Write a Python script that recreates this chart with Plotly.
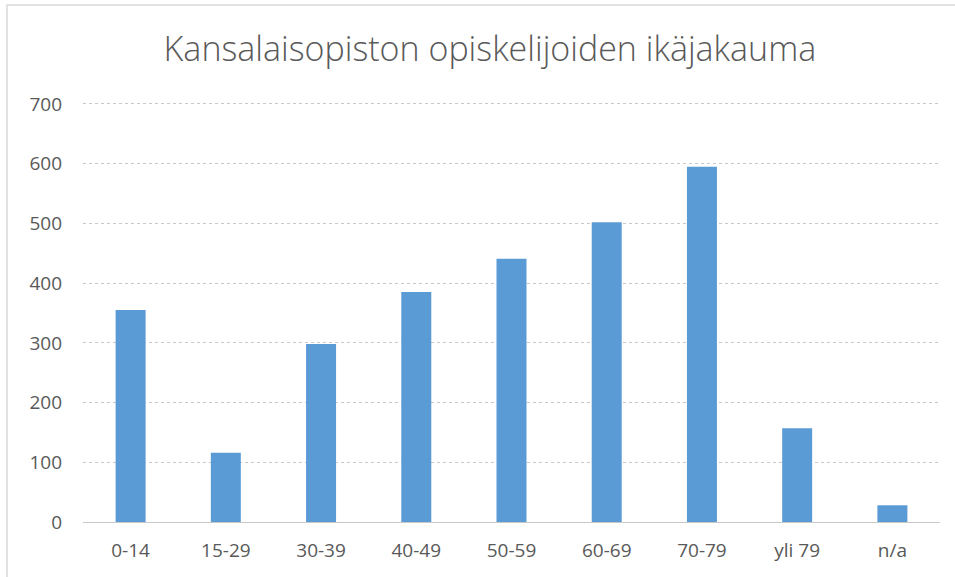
import plotly.graph_objects as go

categories = ["0-14", "15-29", "30-39", "40-49", "50-59", "60-69", "70-79", "yli 79", "n/a"]
values = [355, 116, 298, 385, 441, 502, 595, 157, 28]
y_ticks = [0, 100, 200, 300, 400, 500, 600, 700]
title_text = "Kansalaisopiston opiskelijoiden ikäjakauma"

W, H = 955, 577
ml, mr, mt, mb = 83, 15, 101, 55

fig = go.Figure(go.Bar(
    x=categories, y=values,
    marker=dict(color="#5B9BD5", line=dict(width=0)),
))

pw = W - ml - mr
ph = H - mt - mb
def px_x(p):
    return (p - ml) / pw
def px_y(p):
    return (H - mb - p) / ph

tick_font = dict(family="Open Sans", size=19, color="#595959")

fig.update_layout(
    width=W, height=H,
    margin=dict(l=ml, r=mr, t=mt, b=mb),
    paper_bgcolor="white", plot_bgcolor="white",
    bargap=0.685,
    showlegend=False,
    title=dict(text=title_text, x=0.513, xanchor="center", y=1 - 49 / H, yanchor="middle",
               font=dict(family="Open Sans", size=34, color="#595959", weight=300)),
    font=dict(family="Open Sans", color="#595959", size=19),
    xaxis=dict(showgrid=False, showline=False, ticks="", ticklabelstandoff=15,
               tickfont=tick_font),
    yaxis=dict(range=[0, 705], tickvals=y_ticks, showgrid=True, gridcolor="#c8c8c8",
               griddash="dot", gridwidth=1, zeroline=True, zerolinecolor="#c8c8c8",
               zerolinewidth=1, showline=False, ticks="", ticklabelstandoff=20,
               tickfont=tick_font),
    shapes=[dict(type="rect", xref="paper", yref="paper",
                 x0=px_x(7), x1=px_x(W + 5), y0=px_y(H + 5), y1=px_y(5),
                 line=dict(color="#d9d9d9", width=1.5), fillcolor="rgba(0,0,0,0)", layer="above")],
)

fig.write_html("out.html", config={"displayModeBar": False},
               post_script="document.body.style.margin='0';")
